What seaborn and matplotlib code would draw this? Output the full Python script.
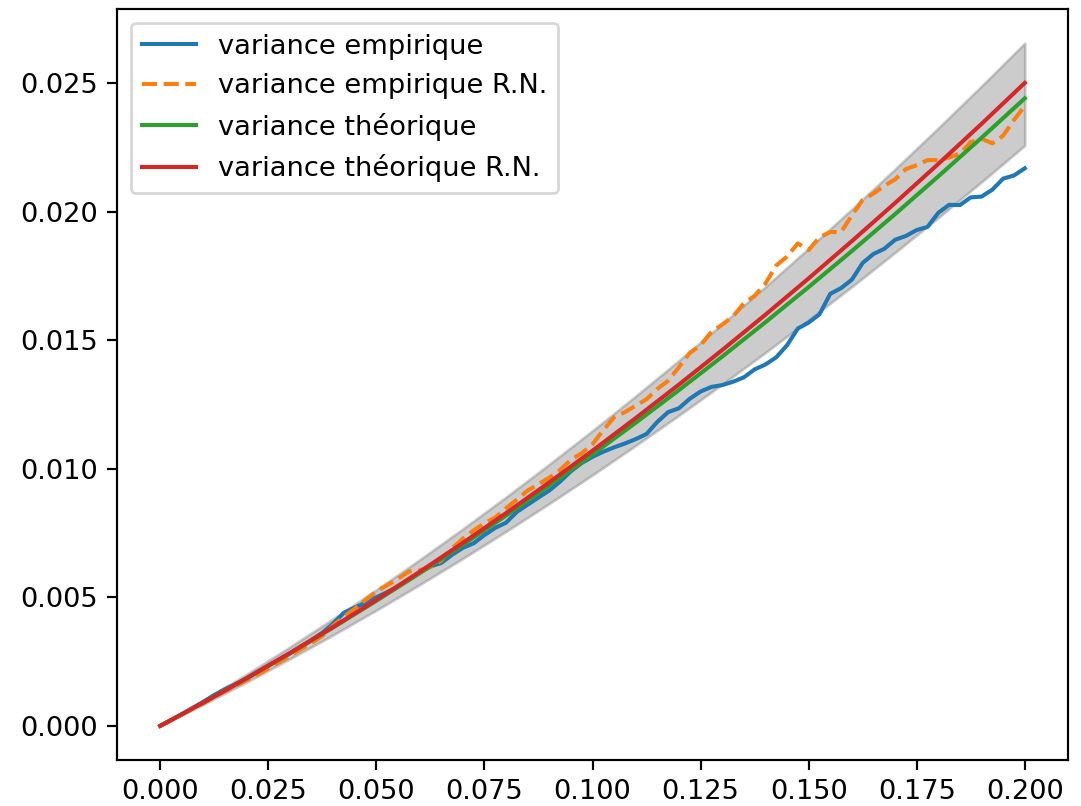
import numpy as np
import pandas as pd
import matplotlib
matplotlib.use("Agg")
import matplotlib.pyplot as plt
import seaborn as sns

# ---- data ----
t_theo = [0.00, 0.01, 0.02, 0.03, 0.04, 0.05, 0.06, 0.07, 0.08, 0.09, 0.10,
          0.11, 0.12, 0.13, 0.14, 0.15, 0.16, 0.17, 0.18, 0.19, 0.20]
var_theo = [0.0, 0.000907, 0.001846, 0.002819, 0.003824, 0.004863, 0.005934,
            0.007039, 0.008176, 0.009347, 0.01055, 0.011787, 0.013056, 0.014359,
            0.015694, 0.017063, 0.018464, 0.019899, 0.021366, 0.022867, 0.0244]
var_theo_rn = [0.0, 0.000908, 0.001852, 0.002832, 0.003848, 0.0049, 0.005988,
               0.007112, 0.008272, 0.009468, 0.0107, 0.011968, 0.013272, 0.014612,
               0.015988, 0.0174, 0.018848, 0.020332, 0.021852, 0.023408, 0.025]
band_low = [0.0, 0.000839, 0.001708, 0.002608, 0.003537, 0.004498, 0.005489,
            0.006511, 0.007563, 0.008646, 0.009759, 0.010903, 0.012077, 0.013282,
            0.014517, 0.015783, 0.017079, 0.018407, 0.019764, 0.021152, 0.02257]
band_high = [0.0, 0.000987, 0.002008, 0.003067, 0.004161, 0.005291, 0.006456,
             0.007658, 0.008895, 0.010170, 0.011478, 0.012824, 0.014205, 0.015623,
             0.017075, 0.018565, 0.020089, 0.021650, 0.023246, 0.024879, 0.026547]

t_emp = [0.0, 0.0025, 0.005, 0.0075, 0.01, 0.0125, 0.015, 0.0175, 0.02, 0.0225,
         0.025, 0.0275, 0.03, 0.0325, 0.035, 0.0375, 0.04, 0.0425, 0.045, 0.0475,
         0.05, 0.0525, 0.055, 0.0575, 0.06, 0.0625, 0.065, 0.0675, 0.07, 0.0725,
         0.075, 0.0775, 0.08, 0.0825, 0.085, 0.0875, 0.09, 0.0925, 0.095, 0.0975,
         0.1, 0.1025, 0.105, 0.1075, 0.11, 0.1125, 0.115, 0.1175, 0.12, 0.1225,
         0.125, 0.1275, 0.13, 0.1325, 0.135, 0.1375, 0.14, 0.1425, 0.145, 0.1475,
         0.15, 0.1525, 0.155, 0.1575, 0.16, 0.1625, 0.165, 0.1675, 0.17, 0.1725,
         0.175, 0.1775, 0.18, 0.1825, 0.185, 0.1875, 0.19, 0.1925, 0.195, 0.1975,
         0.2]
var_emp = [0.0, 0.00022, 0.00045, 0.00070, 0.00094, 0.00120, 0.00143, 0.00163,
           0.00185, 0.00210, 0.00234, 0.00258, 0.00282, 0.00308, 0.00334, 0.00362,
           0.00398, 0.00440, 0.00460, 0.00478, 0.00500, 0.00520, 0.00541, 0.00569,
           0.00596, 0.00620, 0.00633, 0.00665, 0.00692, 0.00710, 0.00742, 0.00770,
           0.00790, 0.00832, 0.00860, 0.00888, 0.00915, 0.00950, 0.00990, 0.01022,
           0.01046, 0.01066, 0.01083, 0.01098, 0.01115, 0.01135, 0.01182, 0.01220,
           0.01235, 0.01272, 0.01300, 0.01318, 0.01325, 0.01338, 0.01355, 0.01386,
           0.01405, 0.01433, 0.01480, 0.01545, 0.01568, 0.01600, 0.01680, 0.01702,
           0.01735, 0.01800, 0.01835, 0.01855, 0.01890, 0.01905, 0.01928, 0.01940,
           0.01995, 0.02026, 0.02025, 0.02055, 0.02058, 0.02085, 0.02128, 0.02140,
           0.02168]
var_emp_rn = [0.0, 0.00021, 0.00044, 0.00067, 0.00088, 0.00112, 0.00134, 0.00156,
              0.00178, 0.00199, 0.00223, 0.00248, 0.00272, 0.00298, 0.00322, 0.00350,
              0.00390, 0.00425, 0.00455, 0.00490, 0.00522, 0.00547, 0.00572, 0.00600,
              0.00605, 0.00617, 0.00643, 0.00690, 0.00728, 0.00760, 0.00788, 0.00810,
              0.00846, 0.00880, 0.00915, 0.00940, 0.00965, 0.00995, 0.01035, 0.01060,
              0.01095, 0.01150, 0.01200, 0.01220, 0.01245, 0.01270, 0.01310, 0.01342,
              0.01395, 0.01450, 0.01480, 0.01532, 0.01560, 0.01592, 0.01643, 0.01672,
              0.01720, 0.01790, 0.01825, 0.01876, 0.01850, 0.01900, 0.01920, 0.01920,
              0.01985, 0.02045, 0.02070, 0.02100, 0.02125, 0.02165, 0.02180, 0.02200,
              0.02200, 0.02210, 0.02225, 0.02270, 0.02283, 0.02265, 0.02295, 0.02356,
              0.02410]

labels = ["variance empirique", "variance empirique R.N.",
          "variance théorique", "variance théorique R.N."]

df_emp = pd.DataFrame({"t": t_emp, "emp": var_emp, "emp_rn": var_emp_rn})
df_theo = pd.DataFrame({"t": t_theo, "theo": var_theo, "theo_rn": var_theo_rn,
                        "low": band_low, "high": band_high})

DPI = 196
fig = plt.figure(figsize=(1081 / DPI, 806 / DPI), dpi=DPI)
ax = fig.add_axes([117 / 1081, (806 - 760) / 806, 951 / 1081, 751 / 806])

ax.fill_between(df_theo["t"], df_theo["low"], df_theo["high"], color="gray", alpha=0.4)
sns.lineplot(data=df_emp, x="t", y="emp", ax=ax, color="#1f77b4", label=labels[0])
sns.lineplot(data=df_emp, x="t", y="emp_rn", ax=ax, color="#ff7f0e", linestyle="--",
             label=labels[1])
sns.lineplot(data=df_theo, x="t", y="theo", ax=ax, color="#2ca02c", label=labels[2])
sns.lineplot(data=df_theo, x="t", y="theo_rn", ax=ax, color="#d62728", label=labels[3])

ax.set_xlabel("")
ax.set_ylabel("")
ax.legend(loc="upper left")

fig.savefig("out.png", dpi=DPI)
